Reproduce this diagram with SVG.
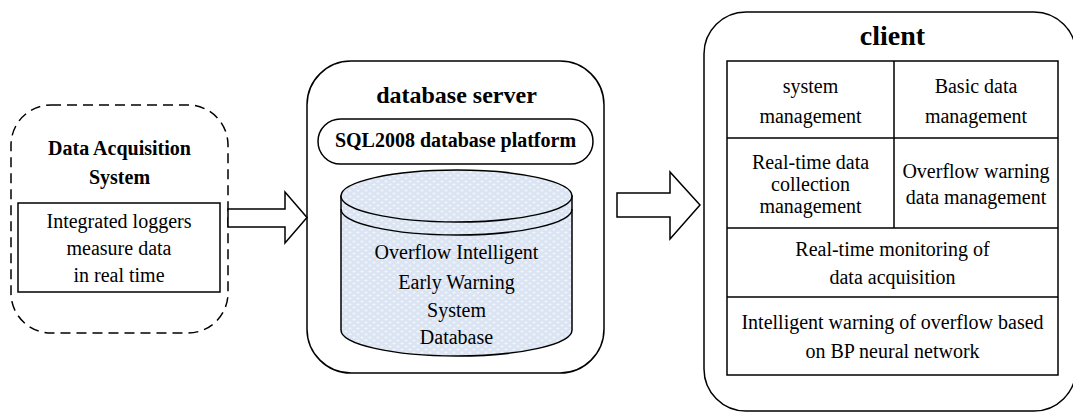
<svg xmlns="http://www.w3.org/2000/svg" width="1073" height="412" viewBox="0 0 1073 412">
<style>
.ln{fill:none;stroke:#000;stroke-width:1.5}
.wf{fill:#fff;stroke:#000;stroke-width:1.5}
.t{font-family:"Liberation Serif","Times New Roman",serif;font-size:20px;text-anchor:middle;fill:#000}
.b{font-weight:bold}
</style>
<defs>
<pattern id="dots" width="8" height="6" patternUnits="userSpaceOnUse">
<rect width="8" height="6" fill="#dbe4f2"/>
<ellipse cx="2" cy="1.5" rx="1.6" ry="0.9" fill="#f2f5fb"/>
<ellipse cx="6" cy="4.5" rx="1.6" ry="0.9" fill="#f2f5fb"/>
</pattern>
</defs>
<rect width="1073" height="412" fill="#fff"/>
<g id="acq">
<rect x="11" y="105" width="217" height="228" rx="40" class="ln" stroke-dasharray="10 6"/>
<text class="t b" x="119.5" y="155">Data Acquisition</text>
<text class="t b" x="119.5" y="184">System</text>
</g>
<g id="loggers">
<rect x="18" y="203" width="202" height="89" class="wf"/>
<text class="t" x="119" y="228">Integrated loggers</text>
<text class="t" x="119" y="255">measure data</text>
<text class="t" x="119" y="282">in real time</text>
</g>
<g id="dbserver">
<rect x="307" y="61" width="297" height="312" rx="44" class="ln"/>
<text class="t b" x="456.5" y="103" style="font-size:24px">database server</text>
</g>
<g id="sql">
<rect x="318" y="119" width="275" height="45" rx="22.5" class="wf"/>
<text class="t b" x="455.5" y="147">SQL2008 database platform</text>
</g>
<g id="db">
<path d="M341,196 L341,330 A115.5,26 0 0 0 572,330 L572,196 Z" fill="url(#dots)" stroke="#000" stroke-width="1.5"/>
<ellipse cx="456.5" cy="196" rx="115.5" ry="26" fill="url(#dots)" stroke="#000" stroke-width="1.5"/>
<path d="M341,209 A115.5,26 0 0 0 572,209" class="ln"/>
<text class="t" x="456.5" y="259">Overflow Intelligent</text>
<text class="t" x="456.5" y="289">Early Warning</text>
<text class="t" x="456.5" y="317">System</text>
<text class="t" x="456.5" y="344">Database</text>
</g>
<g id="client">
<rect x="704" y="12" width="372" height="399" rx="42" class="ln"/>
<text class="t b" x="892.5" y="45" style="font-size:28px">client</text>
<rect x="727" y="61" width="331" height="314" class="wf"/>
<path d="M894,61 V228 M727,138 H1058 M727,228 H1058 M727,297 H1058" class="ln"/>
</g>
<g id="sysmgmt">
<text class="t" x="810.5" y="93">system</text>
<text class="t" x="810.5" y="123">management</text>
</g>
<g id="basic">
<text class="t" x="976" y="93">Basic data</text>
<text class="t" x="976" y="123">management</text>
</g>
<g id="rtcollect">
<text class="t" x="810.5" y="169">Real-time data</text>
<text class="t" x="810.5" y="191">collection</text>
<text class="t" x="810.5" y="213">management</text>
</g>
<g id="overflowmgmt">
<text class="t" x="976" y="178">Overflow warning</text>
<text class="t" x="976" y="204">data management</text>
</g>
<g id="monitor">
<text class="t" x="892.5" y="256">Real-time monitoring of</text>
<text class="t" x="892.5" y="284">data acquisition</text>
</g>
<g id="bp">
<text class="t" x="892.5" y="329">Intelligent warning of overflow based</text>
<text class="t" x="892.5" y="358">on BP neural network</text>
</g>
<g id="connectors">
<path d="M228,209 H285 V192 L307,217.5 L285,243 V227 H228 Z" class="wf"/>
<path d="M617,193 H670 V172 L700,205 L670,239 V217 H617 Z" class="wf"/>
</g>
</svg>
